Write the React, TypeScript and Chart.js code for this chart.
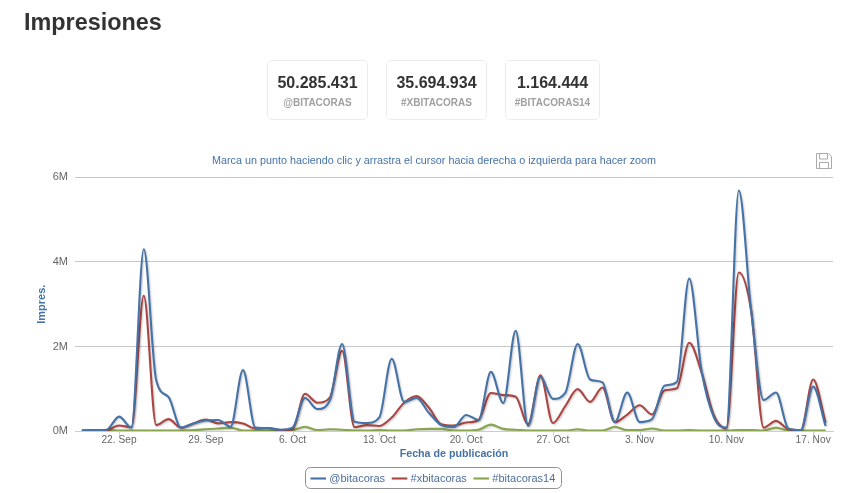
import React, { useEffect, useRef } from "react";
import { Chart, registerables } from "chart.js";

Chart.register(...registerables);

const days = [-3,-2,-1,0,1,2,3,4,5,6,7,8,9,10,11,12,13,14,15,16,17,18,19,20,21,22,23,24,25,26,27,28,29,30,31,32,33,34,35,36,37,38,39,40,41,42,43,44,45,46,47,48,49,50,51,52,53,54,55,56,57];
const bitacoras = [0.01,0.02,0.03,0.34,0.08,4.3,1.2,0.8,0.08,0.18,0.25,0.26,0.1,1.44,0.08,0.07,0.03,0.08,0.78,0.52,0.72,2.06,0.22,0.19,0.32,1.71,0.69,0.78,0.43,0.14,0.09,0.38,0.26,1.4,0.66,2.37,0.12,1.28,0.76,0.9,2.06,1.22,1.15,0.21,0.91,0.21,0.28,1.07,1.16,3.61,1.42,0.32,0.08,5.69,2.84,0.73,0.91,0.06,0.02,1.05,0.12];
const xbitacoras = [0.01,0.01,0.02,0.13,0.09,3.2,0.14,0.28,0.08,0.18,0.27,0.18,0.21,0.18,0.06,0.07,0.02,0.04,0.88,0.67,0.79,1.9,0.09,0.14,0.12,0.32,0.67,0.83,0.55,0.16,0.13,0.2,0.26,0.9,0.85,0.81,0.16,1.32,0.19,0.59,0.99,0.69,1.03,0.21,0.39,0.61,0.39,0.96,1.01,2.09,1.38,0.36,0.06,3.75,2.84,0.08,0.24,0.04,0.02,1.22,0.2];
const bitacoras14 = [0.01,0.01,0.02,0.01,0.01,0.01,0.01,0.01,0.01,0.02,0.04,0.06,0.08,0.01,0.01,0.01,0.01,0.02,0.1,0.02,0.04,0.03,0.01,0.01,0.02,0.01,0.01,0.04,0.05,0.05,0.01,0.01,0.03,0.15,0.05,0.03,0.01,0.01,0.01,0.01,0.04,0.01,0.01,0.1,0.02,0.02,0.06,0.01,0.01,0.02,0.01,0.01,0.01,0.02,0.02,0.01,0.08,0.01,0.01,0.01,0.01];
const tickDays = [0,7,14,21,28,35,42,49,56];
const tickLabels = ["22. Sep","29. Sep","6. Oct","13. Oct","20. Oct","27. Oct","3. Nov","10. Nov","17. Nov"];
const seriesNames = ["@bitacoras","#xbitacoras","#bitacoras14"];
const seriesColors = ["#4572A7","#AA4643","#89A54E"];
const cards = [
  { value: "50.285.431", label: "@BITACORAS", left: 267, width: 101 },
  { value: "35.694.934", label: "#XBITACORAS", left: 386, width: 101 },
  { value: "1.164.444", label: "#BITACORAS14", left: 505, width: 95 },
];
const FONT = '"Liberation Sans", Arial, sans-serif';

const lineShadow = {
  id: "lineShadow",
  beforeDatasetDraw(chart: any) {
    const c = chart.ctx;
    c.save();
    c.shadowColor = "rgba(0,0,0,0.22)";
    c.shadowBlur = 2;
    c.shadowOffsetX = 1;
    c.shadowOffsetY = 1;
  },
  afterDatasetDraw(chart: any) {
    chart.ctx.restore();
  },
};

const legendFrame = {
  id: "legendFrame",
  afterDraw(chart: any) {
    const c = chart.ctx;
    c.save();
    c.strokeStyle = "#909090";
    c.lineWidth = 1;
    c.beginPath();
    c.roundRect(305.5, 467.5, 256, 21, 5);
    c.stroke();
    c.restore();
  },
};

export default function App() {
  const ref = useRef<HTMLCanvasElement>(null);
  useEffect(() => {
    const values = [bitacoras, xbitacoras, bitacoras14];
    const chart = new Chart(ref.current!, {
      type: "line",
      data: {
        datasets: seriesNames.map((name, i) => ({
          label: name,
          data: days.map((d, k) => ({ x: d, y: values[i][k] * 1e6 })),
          borderColor: seriesColors[i],
          backgroundColor: seriesColors[i],
          borderWidth: 2.1,
          pointRadius: 0,
          cubicInterpolationMode: "monotone" as const,
          fill: false,
        })),
      },
      options: {
        animation: false,
        responsive: false,
        devicePixelRatio: 1,
        layout: { padding: { left: 0, right: 0, top: 0, bottom: -1 } },
        plugins: {
          tooltip: { enabled: false },
          title: {
            display: true,
            text: "Marca un punto haciendo clic y arrastra el cursor hacia derecha o izquierda para hacer zoom",
            color: "#4572A7",
            font: { family: FONT, size: 10.8, weight: "normal" },
            padding: { top: 155, bottom: 9.5 },
          },
          legend: {
            position: "bottom",
            labels: {
              color: "#4d6f9e",
              font: { family: FONT, size: 11 },
              usePointStyle: true,
              pointStyle: "line",
              boxWidth: 26,
              padding: 9,
            },
          },
        },
        scales: {
          x: {
            type: "linear",
            min: -3.55,
            max: 57.6,
            afterBuildTicks(axis: any) {
              axis.ticks = tickDays.map((v) => ({ value: v }));
            },
            afterFit(axis: any) {
              axis.height = 33;
            },
            grid: { display: false, drawTicks: false },
            border: { color: "#C0D0E0" },
            ticks: {
              autoSkip: false,
              maxRotation: 0,
              color: "#666",
              padding: 3,
              font: { family: FONT, size: 10.2 },
              callback: (v: any) => tickLabels[tickDays.indexOf(v)] ?? "",
            },
            title: {
              display: true,
              text: "Fecha de publicación",
              color: "#4572A7",
              font: { family: FONT, size: 10.7, weight: "bold" },
              padding: { top: 0, bottom: 4 },
            },
          },
          y: {
            min: 0,
            max: 6000000,
            afterFit(axis: any) {
              axis.width = 75;
            },
            afterBuildTicks(axis: any) {
              axis.ticks = [0, 2, 4, 6].map((v) => ({ value: v * 1e6 }));
            },
            grid: {
              color: (c: any) => (c.tick.value === 0 ? "rgba(0,0,0,0)" : "#C8C8C8"),
              lineWidth: 1,
              drawTicks: false,
            },
            border: { display: false },
            ticks: {
              color: "#666",
              padding: 7,
              font: { family: FONT, size: 11 },
              callback: (v: any) => `${Number(v) / 1e6}M`,
            },
            title: {
              display: true,
              text: "Impres.",
              color: "#4572A7",
              font: { family: FONT, size: 11, weight: "bold" },
              padding: { top: 35, bottom: 0 },
            },
          },
          yRight: {
            position: "right",
            display: true,
            min: 0,
            max: 6000000,
            afterFit(axis: any) {
              axis.width = 35;
            },
            grid: { display: false },
            border: { display: false },
            ticks: { display: false },
          },
        },
      },
      plugins: [lineShadow, legendFrame, {
        id: "xTickMarks",
        afterDraw(c: any) {
          const s = c.scales.x;
          const ctx = c.ctx;
          ctx.save();
          ctx.strokeStyle = "#C0D0E0";
          tickDays.forEach((v) => {
            const px = Math.round(s.getPixelForValue(v)) + 0.5;
            ctx.beginPath();
            ctx.moveTo(px, c.chartArea.bottom);
            ctx.lineTo(px, c.chartArea.bottom + 5);
            ctx.stroke();
          });
          ctx.restore();
        },
      }],
    } as any);
    return () => chart.destroy();
  }, []);

  return (
    <div style={{ position: "absolute", left: 0, top: 0, width: 868, height: 493, background: "#fff", overflow: "hidden", fontFamily: FONT }}>
      <canvas ref={ref} width={868} height={493} style={{ position: "absolute", left: 0, top: 0, width: 868, height: 493 }} />
      <div style={{ position: "absolute", left: 24, top: 8, fontSize: 23.4, fontWeight: 700, color: "#333", lineHeight: "28px" }}>Impresiones</div>
      {cards.map((c) => (
        <div key={c.label} style={{ position: "absolute", left: c.left, top: 60, width: c.width, height: 60, boxSizing: "border-box", border: "1px solid #ececec", borderRadius: 5, textAlign: "center" }}>
          <div style={{ marginTop: 12, fontSize: 16, fontWeight: 700, color: "#333", lineHeight: "20px" }}>{c.value}</div>
          <div style={{ marginTop: 3, fontSize: 10, color: "#a0a0a0", lineHeight: "13px", fontWeight: 700 }}>{c.label}</div>
        </div>
      ))}
      <svg style={{ position: "absolute", left: 816, top: 153 }} width={16} height={16} viewBox="0 0 16 16">
        <path d="M0.5 0.5H12.5L15.5 3.5V15.5H0.5Z M3.5 0.5V6H11.5V0.5 M3.5 15.5V9.5H12.5V15.5" fill="none" stroke="#aaa" strokeWidth={1} />
      </svg>
    </div>
  );
}
